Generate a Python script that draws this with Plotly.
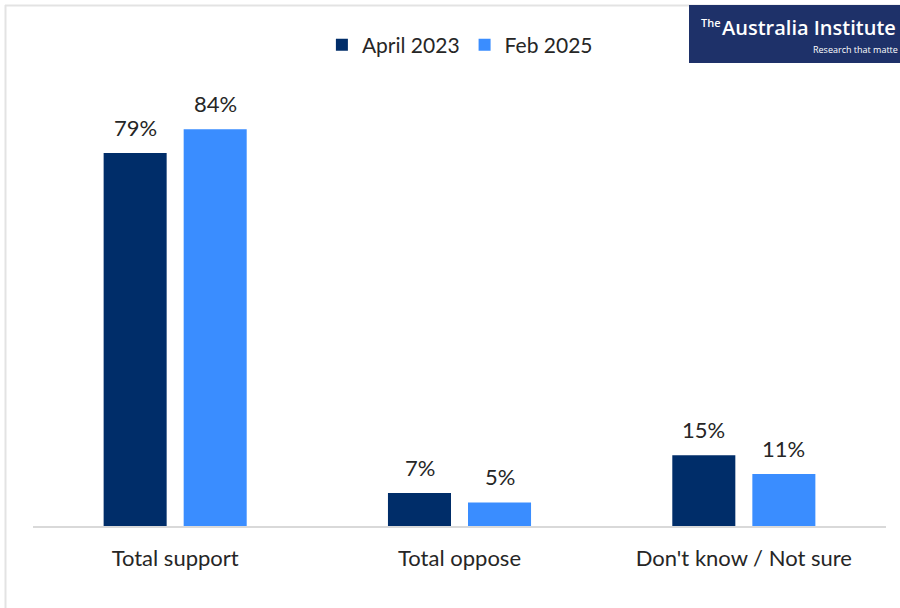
import plotly.graph_objects as go

categories = ["Total support", "Total oppose", "Don't know / Not sure"]
series_names = ["April 2023", "Feb 2025"]
april_2023 = [79, 7, 15]
feb_2025 = [84, 5, 11]
colors = ["#002D69", "#3A8DFF"]

W, H = 900, 608
FONT = "Lato"

fig = go.Figure()
for name, vals, col in zip(series_names, [april_2023, feb_2025], colors):
    fig.add_trace(go.Bar(x=categories, y=vals, name=name, marker_color=col,
                         marker_line_width=0, hoverinfo="skip"))

# value labels
for vals, xs in [(april_2023, -40), (feb_2025, 40)]:
    for c, v in zip(categories, vals):
        fig.add_annotation(x=c, y=v, xref="x", yref="y", text=f"{v}%",
                           showarrow=False, xshift=xs, yshift=10, yanchor="bottom",
                           font=dict(family=FONT, size=22, color="#262626"))

# frame lines
fig.add_shape(type="line", xref="paper", yref="paper", x0=5.5/W, x1=5.5/W,
              y0=-82/425, y1=1 + 96/425, line=dict(color="#e3e3e3", width=2))
fig.add_shape(type="line", xref="paper", yref="paper", x0=5/W, x1=1,
              y0=1 + 95.5/425, y1=1 + 95.5/425, line=dict(color="#e3e3e3", width=2))

# logo block
fig.add_shape(type="rect", xref="paper", yref="paper", x0=689/W, x1=1.01,
              y0=1 + 38/425, y1=1 + 96/425, fillcolor="#1E3169", line_width=0)
fig.add_annotation(xref="paper", yref="paper", x=699/W, y=1 + 79/425,
                   xanchor="left", yanchor="middle", showarrow=False,
                   text="The",
                   font=dict(family="Open Sans", size=11, color="white", weight=600))
fig.add_annotation(xref="paper", yref="paper", x=720/W, y=1 + 73/425,
                   xanchor="left", yanchor="middle", showarrow=False,
                   text="Australia Institute",
                   font=dict(family="Open Sans", size=20, color="white", weight=600))
fig.add_annotation(xref="paper", yref="paper", x=1.0, y=1 + 51/425,
                   xanchor="right", yanchor="middle", showarrow=False,
                   text="Research that matte",
                   font=dict(family="Open Sans", size=9, color="white"))

fig.update_layout(
    width=W, height=H,
    margin=dict(l=0, r=0, t=101, b=82),
    paper_bgcolor="white", plot_bgcolor="white",
    barmode="group", bargap=0.437, bargroupgap=0.2125,
    showlegend=True,
    legend=dict(orientation="h", x=0.511, xanchor="center", y=1 + 56/425,
                yanchor="middle", font=dict(family=FONT, size=21, color="#262626"),
                itemwidth=30, traceorder="normal"),
    xaxis=dict(domain=[33/W, 886/W], showline=True, linecolor="#d9d9d9",
               linewidth=2, ticks="", tickfont=dict(family=FONT, size=22, color="#262626"),
               ticklabelstandoff=12),
    yaxis=dict(range=[0, 90], visible=False, showgrid=False),
    font=dict(family=FONT),
)

fig.write_html("out.html")
